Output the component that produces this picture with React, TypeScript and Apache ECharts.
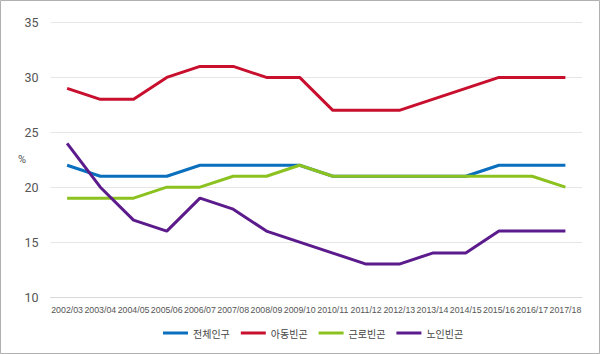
import React, { useEffect, useRef } from "react";
import * as echarts from "echarts";

const categories = ["2002/03","2003/04","2004/05","2005/06","2006/07","2007/08","2008/09","2009/10","2010/11","2011/12","2012/13","2013/14","2014/15","2015/16","2016/17","2017/18"];
const total = [22, 21, 21, 21, 22, 22, 22, 22, 21, 21, 21, 21, 21, 22, 22, 22];
const child = [29, 28, 28, 30, 31, 31, 30, 30, 27, 27, 27, 28, 29, 30, 30, 30];
const working = [19, 19, 19, 20, 20, 21, 21, 22, 21, 21, 21, 21, 21, 21, 21, 20];
const elderly = [24, 20, 17, 16, 19, 18, 16, 15, 14, 13, 13, 14, 14, 16, 16, 16];
const seriesNames = ["전체인구", "아동빈곤", "근로빈곤", "노인빈곤"];
const colors = ["#0a6fbd", "#c8102e", "#8cc21f", "#5c1b8c"];

export default function App() {
  const ref = useRef<HTMLDivElement>(null);
  useEffect(() => {
    document.body.style.margin = "0";
    const chart = echarts.init(ref.current!, null, { renderer: "svg" });
    const data = [total, child, working, elderly];
    chart.setOption({
      animation: false,
      backgroundColor: "#fff",
      textStyle: { fontFamily: "Roboto, 'Noto Sans CJK KR', sans-serif" },
      grid: { left: 50.5, right: 18, top: 22.5, bottom: 57 },
      xAxis: {
        type: "category",
        data: categories,
        boundaryGap: true,
        axisLine: { show: true, lineStyle: { color: "#d9d9d9" } },
        axisTick: { show: false },
        axisLabel: {
          interval: 0,
          fontSize: 8.8,
          color: "#555",
          margin: 8,
          fontFamily: "'Liberation Sans', Arial, sans-serif",
        },
      },
      yAxis: {
        type: "value",
        min: 10,
        max: 35,
        interval: 5,
        axisLine: { show: false },
        axisTick: { show: false },
        axisLabel: { fontSize: 12.5, color: "#555", margin: 12 },
        splitLine: { lineStyle: { color: "#e6e6e6", width: 1 } },
      },
      legend: {
        bottom: 16,
        left: 163,
        padding: 0,
        itemWidth: 25,
        itemHeight: 3,
        itemGap: 11,
        icon: "rect",
        textStyle: { fontSize: 10, color: "#444", fontFamily: "'Noto Sans CJK KR', sans-serif" },
        data: seriesNames,
      },
      graphic: [
        {
          type: "rect",
          shape: { x: 0.5, y: 0.5, width: 599, height: 353 },
          style: { fill: "none", stroke: "#b0b0b0", lineWidth: 1 },
          silent: true,
        },
        {
          type: "text",
          left: 18,
          top: 154,
          style: { text: "%", fontSize: 11, fill: "#555", fontFamily: "Roboto, sans-serif" },
        },
      ],
      series: seriesNames.map((name, i) => ({
        name,
        type: "line",
        data: data[i],
        symbol: "none",
        lineStyle: { width: 3, color: colors[i] },
        itemStyle: { color: colors[i] },
        z: 2 + i,
      })),
    });
    return () => chart.dispose();
  }, []);
  return <div ref={ref} style={{ width: 600, height: 354 }} />;
}
